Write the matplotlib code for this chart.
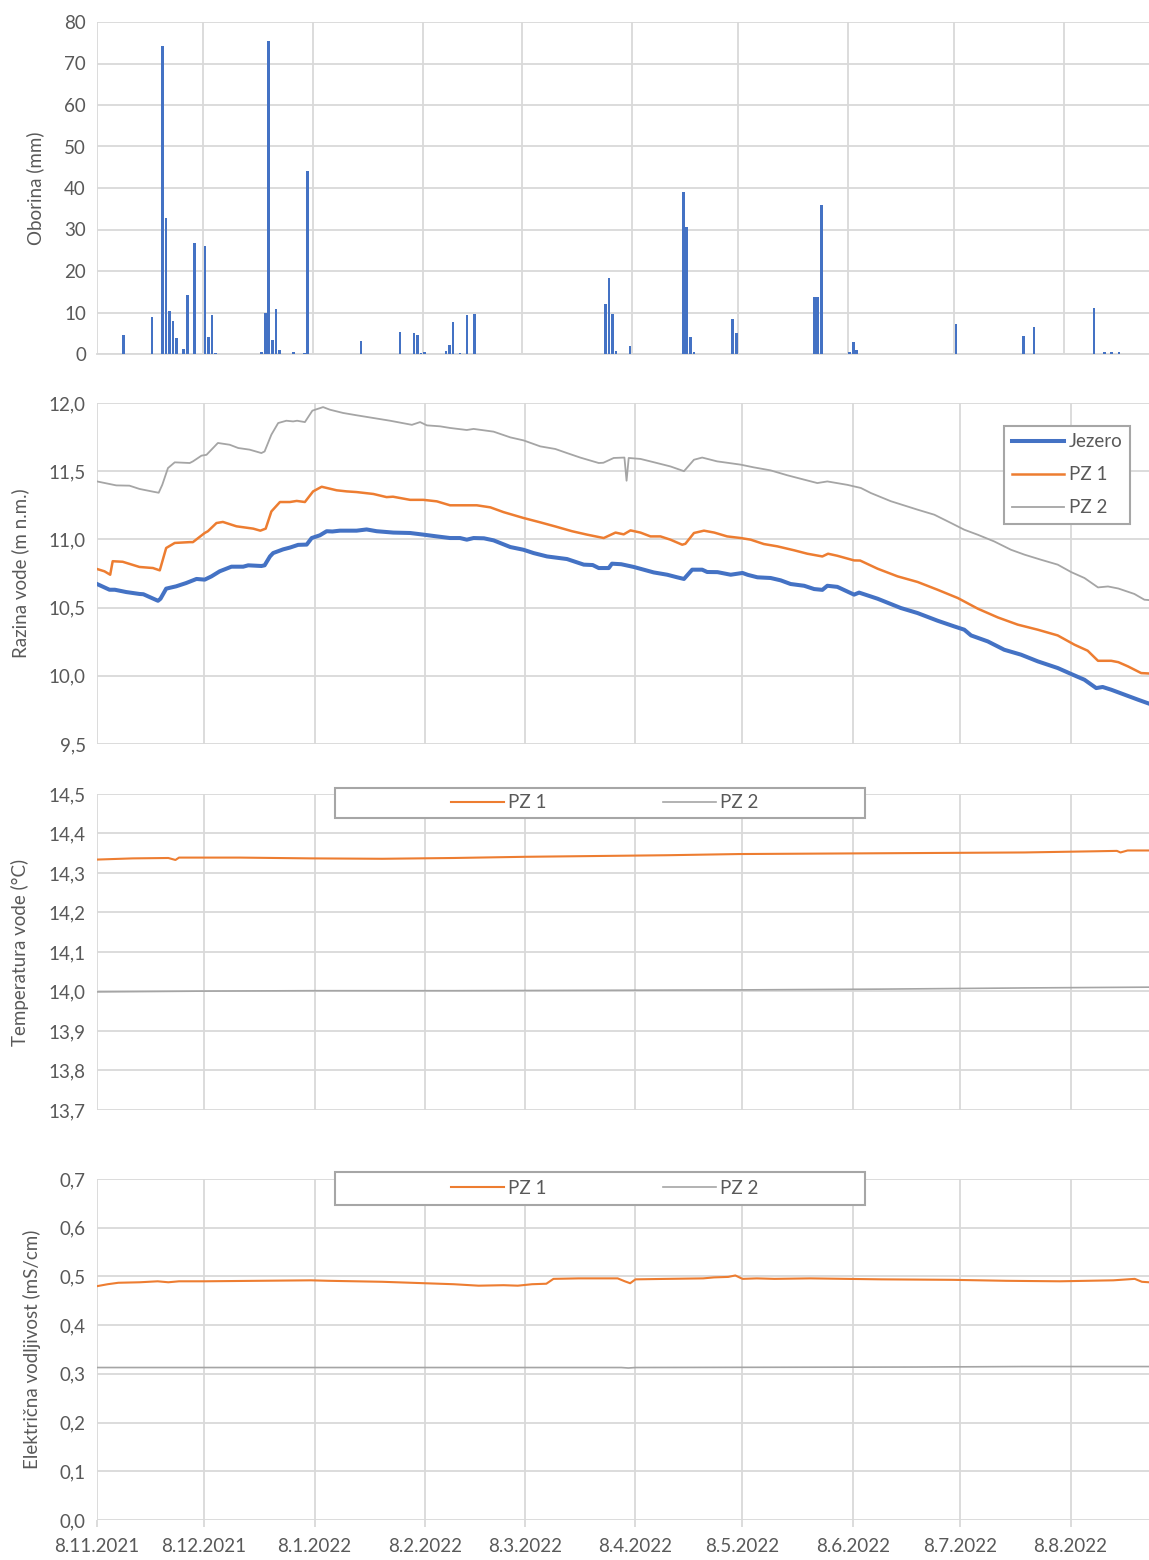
import matplotlib
matplotlib.use("Agg")
import matplotlib.pyplot as plt
import matplotlib.dates as mdates
from matplotlib.patches import Rectangle
from matplotlib.ticker import FuncFormatter, MultipleLocator
from matplotlib.transforms import blended_transform_factory
import pandas as pd

# ---------------- data ----------------
start = pd.Timestamp("2021-11-08")

prec_dates = ["2021-11-15", "2021-11-23", "2021-11-26", "2021-11-27", "2021-11-28", "2021-11-29",
              "2021-11-30", "2021-12-02", "2021-12-03", "2021-12-05", "2021-12-08", "2021-12-09",
              "2021-12-10", "2021-12-11", "2021-12-24", "2021-12-25", "2021-12-26", "2021-12-27",
              "2021-12-28", "2021-12-29", "2022-01-02", "2022-01-05", "2022-01-06", "2022-01-21",
              "2022-02-01", "2022-02-05", "2022-02-06", "2022-02-07", "2022-02-08", "2022-02-14",
              "2022-02-15", "2022-02-16", "2022-02-18", "2022-02-20", "2022-02-22", "2022-03-31",
              "2022-04-01", "2022-04-02", "2022-04-03", "2022-04-07", "2022-04-22", "2022-04-23",
              "2022-04-24", "2022-04-25", "2022-05-06", "2022-05-07", "2022-05-29", "2022-05-30",
              "2022-05-31", "2022-06-08", "2022-06-09", "2022-06-10", "2022-07-08", "2022-07-27",
              "2022-07-30", "2022-08-16", "2022-08-19", "2022-08-21", "2022-08-23"]
prec_mm = [4.5, 9.0, 74.3, 32.8, 10.3, 7.9,
           3.8, 1.3, 14.3, 26.8, 26.0, 4.0,
           9.5, 0.3, 0.6, 10.0, 75.5, 3.4,
           10.9, 0.9, 0.6, 0.2, 44.0, 3.1,
           5.4, 5.1, 4.5, 0.2, 0.4, 0.7,
           2.2, 7.8, 0.2, 9.3, 9.7, 12.0,
           18.4, 9.6, 0.7, 1.9, 39.0, 30.5,
           4.0, 0.4, 8.5, 5.0, 13.8, 13.8,
           36.0, 0.4, 2.9, 1.0, 7.3, 4.4,
           6.6, 11.0, 0.4, 0.4, 0.5]

# water level (days since 8.11.2021, m a.s.l.)
jez_day = [0, 3.5, 5, 8.2, 11.9, 13, 14.7, 17.1, 17.8, 19.4, 22.2, 25, 27.9, 30.2, 32.1, 34.4,
           37.7, 41, 42.4, 46.1, 47, 48.5, 49.4, 52.2, 54.1, 56.4, 58.8, 60.2, 62.5, 64.4, 66,
           68.1, 72.8, 75.6, 78.4, 83.1, 87.8, 91.5, 95.3, 99, 101.8, 103.7, 105.6, 108.5, 111.2,
           115.9, 119.6, 122.4, 126.2, 131.8, 136.5, 139, 140.7, 143.5, 144.4, 147, 150.5, 153.3,
           156.1, 159.9, 162.7, 164.6, 166.9, 169.7, 171.1, 174, 177.7, 181, 182.5, 185.2, 188.9,
           191.7, 194.5, 198.3, 201.1, 203.4, 204.8, 207.6, 212.3, 213.7, 218.9, 225.4, 230.1,
           235.7, 240.4, 243.2, 245.1, 249.8, 254.4, 259.1, 263.8, 269.4, 273.2, 276.9, 280.2,
           282, 284.4, 288.2, 291.9, 295]
jez_val = [10.673, 10.631, 10.631, 10.614, 10.600, 10.598, 10.578, 10.550, 10.565, 10.639, 10.656,
           10.680, 10.710, 10.705, 10.729, 10.766, 10.800, 10.800, 10.810, 10.805, 10.810, 10.875,
           10.900, 10.927, 10.940, 10.960, 10.962, 11.010, 11.030, 11.060, 11.058, 11.064, 11.064,
           11.073, 11.060, 11.050, 11.047, 11.035, 11.022, 11.010, 11.010, 10.998, 11.010, 11.008,
           10.993, 10.944, 10.924, 10.900, 10.875, 10.856, 10.815, 10.812, 10.790, 10.790, 10.822,
           10.818, 10.798, 10.778, 10.758, 10.741, 10.722, 10.710, 10.778, 10.778, 10.761, 10.760,
           10.741, 10.754, 10.740, 10.722, 10.717, 10.700, 10.673, 10.660, 10.636, 10.630, 10.660,
           10.652, 10.595, 10.610, 10.565, 10.497, 10.460, 10.404, 10.362, 10.338, 10.296, 10.252,
           10.191, 10.155, 10.106, 10.057, 10.013, 9.971, 9.910, 9.918, 9.898, 9.861, 9.825, 9.796]

pz1_day = [0, 2.1, 3.7, 4.4, 7.2, 11.9, 15.7, 17.6, 19.4, 21.8, 26, 26.9, 30.2, 31.1, 33.5, 35.3,
           39.1, 43.8, 45.8, 47.3, 48.9, 51.3, 54.1, 56, 58.3, 60.6, 63, 67.2, 70, 72.8, 77.5, 81.2,
           83, 87.8, 91.5, 95.3, 99, 106.5, 110.3, 114, 119.6, 124.3, 128.5, 133.2, 137.4, 142.1,
           145.4, 147.7, 149.6, 152.4, 155.2, 158, 160.8, 164.1, 165, 167.4, 170.2, 173.1, 176.7,
           180.5, 183.3, 187, 190.8, 195.5, 199.2, 203.4, 205, 207.6, 212.3, 214, 218.9, 224.5,
           230.1, 235.7, 241.4, 247, 252.6, 258.2, 263.8, 269.4, 274.1, 277.8, 280.7, 284.4, 286.4,
           289.1, 292.8, 295]
pz1_val = [10.783, 10.766, 10.741, 10.840, 10.836, 10.798, 10.790, 10.773, 10.937, 10.974, 10.980,
           10.980, 11.047, 11.060, 11.120, 11.128, 11.096, 11.079, 11.064, 11.079, 11.205, 11.274,
           11.274, 11.282, 11.274, 11.352, 11.386, 11.360, 11.352, 11.347, 11.333, 11.310, 11.313,
           11.290, 11.290, 11.279, 11.250, 11.250, 11.235, 11.200, 11.157, 11.125, 11.095, 11.060,
           11.035, 11.010, 11.050, 11.037, 11.066, 11.050, 11.022, 11.022, 10.998, 10.961, 10.968,
           11.047, 11.064, 11.050, 11.022, 11.010, 10.998, 10.966, 10.949, 10.920, 10.895, 10.875,
           10.895, 10.880, 10.846, 10.845, 10.785, 10.729, 10.688, 10.631, 10.570, 10.492, 10.428,
           10.375, 10.338, 10.296, 10.228, 10.184, 10.110, 10.110, 10.100, 10.069, 10.020, 10.017]

pz2_day = [0, 5.4, 9.1, 11.9, 15.7, 17.3, 18.3, 19.9, 21.8, 26, 26.9, 29.3, 30.7, 32.1, 33.9, 37.2,
           39.6, 42.8, 46.1, 47, 48.9, 50.8, 53.1, 55, 56.1, 58.3, 60.4, 63.4, 65.3, 69, 72.8, 77.5,
           82.2, 88.3, 90.6, 92.5, 96.2, 99, 103.7, 105.6, 111.2, 115.9, 119.6, 124.3, 128.5, 131.8,
           135.5, 140.7, 142, 144.9, 147.9, 148.5, 149.1, 152.4, 156.1, 160.8, 164.6, 167.4, 169.7,
           173.9, 176.7, 180.5, 184.2, 188.9, 193.6, 198.3, 202, 204.8, 210.4, 214.2, 217, 222.6,
           230.1, 234.8, 239.5, 243.2, 247, 251.6, 256.3, 260.1, 264.7, 269.4, 273.2, 276.9, 280.7,
           283.5, 286.4, 290.9, 293.7, 295]
pz2_val = [11.425, 11.396, 11.394, 11.370, 11.350, 11.342, 11.400, 11.523, 11.565, 11.560, 11.572,
           11.614, 11.620, 11.658, 11.707, 11.694, 11.670, 11.658, 11.633, 11.645, 11.768, 11.853,
           11.870, 11.865, 11.870, 11.860, 11.944, 11.970, 11.951, 11.927, 11.910, 11.890, 11.870,
           11.840, 11.860, 11.836, 11.829, 11.817, 11.802, 11.810, 11.790, 11.748, 11.726, 11.682,
           11.663, 11.633, 11.600, 11.560, 11.562, 11.597, 11.600, 11.430, 11.597, 11.590, 11.566,
           11.535, 11.500, 11.584, 11.600, 11.572, 11.562, 11.548, 11.528, 11.506, 11.470, 11.438,
           11.413, 11.425, 11.400, 11.377, 11.340, 11.280, 11.218, 11.181, 11.120, 11.071, 11.034,
           10.985, 10.924, 10.888, 10.851, 10.815, 10.760, 10.717, 10.648, 10.655, 10.640, 10.600,
           10.558, 10.555]

# water temperature (°C)
t1_day = [0, 10, 20, 22, 23, 40, 60, 80, 100, 120, 140, 160, 180, 200, 220, 240, 260, 280, 286, 287, 289, 295]
t1_val = [14.334, 14.337, 14.338, 14.333, 14.339, 14.339, 14.337, 14.336, 14.338, 14.341, 14.343,
          14.345, 14.348, 14.349, 14.350, 14.351, 14.352, 14.355, 14.356, 14.352, 14.357, 14.357]
t2_day = [0, 30, 60, 100, 140, 180, 220, 260, 295]
t2_val = [13.999, 14.001, 14.002, 14.002, 14.003, 14.004, 14.006, 14.009, 14.011]

# electrical conductivity (mS/cm)
c1_day = [0, 3, 6, 12, 17, 20, 23, 30, 45, 60, 65, 80, 92, 100, 107, 114, 118, 122, 126, 128, 135,
          146, 148, 149.5, 151, 160, 170, 173, 177, 179, 181, 185, 190, 200, 210, 220, 240, 255, 270,
          285, 291, 293, 295]
c1_val = [0.480, 0.484, 0.487, 0.488, 0.490, 0.488, 0.490, 0.490, 0.491, 0.492, 0.491, 0.489, 0.486,
          0.484, 0.481, 0.482, 0.481, 0.484, 0.485, 0.495, 0.496, 0.496, 0.490, 0.486, 0.494, 0.495,
          0.496, 0.498, 0.499, 0.502, 0.495, 0.496, 0.495, 0.496, 0.495, 0.494, 0.493, 0.491, 0.490,
          0.492, 0.495, 0.489, 0.488]
c2_day = [0, 100, 147, 149, 151, 230, 260, 295]
c2_val = [0.313, 0.313, 0.313, 0.312, 0.313, 0.314, 0.315, 0.315]

tick_dates = ["2021-11-08", "2021-12-08", "2022-01-08", "2022-02-08", "2022-03-08",
              "2022-04-08", "2022-05-08", "2022-06-08", "2022-07-08", "2022-08-08"]

# ---------------- style ----------------
plt.rcParams['font.family'] = ['Lato', 'DejaVu Sans']
TXT = '#595959'
GRID = '#d9d9d9'
BLUE = '#4472C4'
ORANGE = '#ED7D31'
GRAY = '#A5A5A5'
FS = 13.5

W, H = 1149, 1560
fig = plt.figure(figsize=(W / 100, H / 100), dpi=100)


def add_ax(top, bottom, left=97, right=1149):
    return fig.add_axes([left / W, 1 - bottom / H, (right - left) / W, (bottom - top) / H])


def to_dates(days):
    return [start + pd.Timedelta(days=d) for d in days]


ticks = pd.to_datetime(tick_dates)
date_fmt = FuncFormatter(lambda v, p: (lambda d: f"{d.day}.{d.month}.{d.year}")(mdates.num2date(v)))
comma1 = FuncFormatter(lambda v, p: f"{v:.1f}".replace('.', ','))

ax1 = add_ax(22, 354)
ax2 = add_ax(403, 744)
ax3 = add_ax(794, 1110)
ax4 = add_ax(1179, 1520)

for ax in (ax1, ax2, ax3, ax4):
    for s in ax.spines.values():
        s.set_visible(False)
    ax.grid(True, color=GRID, linewidth=1.3, zorder=0)
    ax.set_axisbelow(True)
    ax.set_xticks(ticks)
    ax.tick_params(axis='both', colors=TXT, labelsize=FS, length=0, pad=8)
    ax.tick_params(axis='x', labelbottom=False)

# panel 1: precipitation
pdates = pd.to_datetime(prec_dates) + pd.Timedelta(hours=12)
ax1.bar(pdates, prec_mm, width=0.75, color=BLUE, zorder=3)
ax1.set_xlim(start, pd.Timestamp("2022-09-01"))
ax1.set_ylim(0, 80)
ax1.yaxis.set_major_locator(MultipleLocator(10))
ax1.spines['bottom'].set_visible(True)
ax1.spines['bottom'].set_color(GRID)
ax1.spines['bottom'].set_linewidth(1.3)

xend = pd.Timestamp("2022-08-30")
# panel 2: water level
ax2.plot(to_dates(jez_day), jez_val, color=BLUE, lw=2.9, label='Jezero', zorder=4)
ax2.plot(to_dates(pz1_day), pz1_val, color=ORANGE, lw=1.8, label='PZ 1', zorder=3)
ax2.plot(to_dates(pz2_day), pz2_val, color=GRAY, lw=1.3, label='PZ 2', zorder=3)
ax2.set_xlim(start, xend)
ax2.set_ylim(9.5, 12.0)
ax2.yaxis.set_major_locator(MultipleLocator(0.5))
ax2.yaxis.set_major_formatter(comma1)
leg = ax2.legend(loc='upper right', bbox_to_anchor=(1130 / W, 1 - 426 / H), bbox_transform=fig.transFigure,
                 fontsize=FS, frameon=True, fancybox=False, edgecolor='#a6a6a6', framealpha=1,
                 handlelength=2.8, handletextpad=0.25, labelspacing=0.85, borderpad=0.4, borderaxespad=0)
leg.get_frame().set_linewidth(1.5)
for t in leg.get_texts():
    t.set_color(TXT)

# panel 3: temperature
l31, = ax3.plot(to_dates(t1_day), t1_val, color=ORANGE, lw=1.5, label='PZ 1')
l32, = ax3.plot(to_dates(t2_day), t2_val, color=GRAY, lw=1.2, label='PZ 2')
ax3.set_xlim(start, xend)
ax3.set_ylim(13.7, 14.5)
ax3.yaxis.set_major_locator(MultipleLocator(0.1))
ax3.yaxis.set_major_formatter(comma1)

# panel 4: conductivity
l41, = ax4.plot(to_dates(c1_day), c1_val, color=ORANGE, lw=1.5, label='PZ 1')
l42, = ax4.plot(to_dates(c2_day), c2_val, color=GRAY, lw=1.2, label='PZ 2')
ax4.set_xlim(start, xend)
ax4.set_ylim(0.0, 0.7)
ax4.yaxis.set_major_locator(MultipleLocator(0.1))
ax4.yaxis.set_major_formatter(comma1)
ax4.tick_params(axis='x', labelbottom=True, length=5, color=GRID, width=1.3, pad=8)
ax4.xaxis.set_major_formatter(date_fmt)


def box_legend(handles, top, bottom, yc):
    fig.add_artist(Rectangle((335 / W, 1 - bottom / H), (865 - 335) / W, (bottom - top) / H,
                             transform=fig.transFigure, facecolor='white', edgecolor='#a6a6a6',
                             linewidth=1.5, zorder=5))
    lg = fig.legend(handles=handles, loc='center', bbox_to_anchor=(605 / W, 1 - yc / H),
                    bbox_transform=fig.transFigure, ncol=2, frameon=False, fontsize=FS,
                    handlelength=2.8, handletextpad=0.25, columnspacing=6.2)
    lg.set_zorder(6)
    for t in lg.get_texts():
        t.set_color(TXT)


box_legend([l31, l32], 788, 818, 803)
box_legend([l41, l42], 1172, 1205, 1188)

# y labels
labels = [(ax1, "Oborina (mm)", 44), (ax2, "Razina vode (m n.m.)", 29),
          (ax3, "Temperatura vode (°C)", 29), (ax4, "Električna vodljivost (mS/cm)", 41)]
for ax, txt, xr in labels:
    ax.set_ylabel(txt, color=TXT, fontsize=FS)
    ax.yaxis.set_label_coords(xr / W, 0.5, transform=blended_transform_factory(fig.transFigure, ax.transAxes))

fig.savefig("out.png", dpi=100, facecolor='white')
